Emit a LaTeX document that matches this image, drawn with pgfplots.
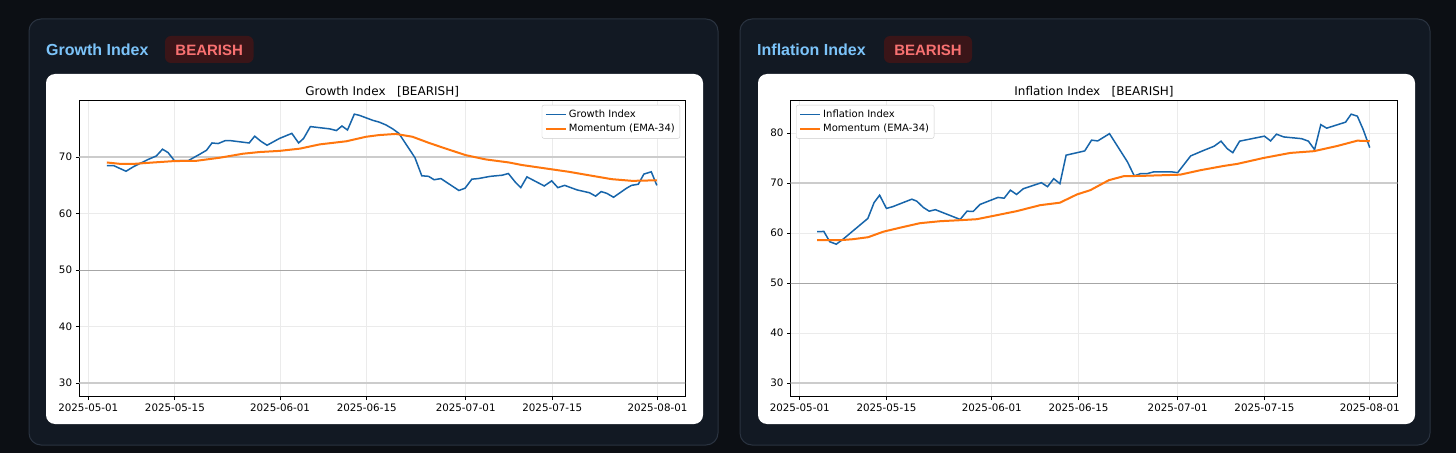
\documentclass[border=0pt]{standalone}
\usepackage{fontspec}
\setmainfont{DejaVu Sans}
\newfontfamily\hdrfont{Liberation Sans}
\usepackage{pgfplots}
\pgfplotsset{compat=1.18}
\usepackage{pgfplotstable}

\definecolor{pagebg}{HTML}{0C0F14}
\definecolor{cardbg}{HTML}{121923}
\definecolor{cardline}{HTML}{2A3340}
\definecolor{hdrblue}{HTML}{7CC4FA}
\definecolor{bearred}{HTML}{F87171}
\definecolor{badgebg}{HTML}{3A1518}
\definecolor{lineblue}{HTML}{1765AA}
\definecolor{lineorange}{HTML}{FF760D}

% day = days since 2025-05-01
\pgfplotstableread{
day val
3.0 68.5
4.1 68.5
6.1 67.5
7.3 68.3
8.4 68.9
9.7 69.6
11.0 70.2
12.0 71.4
12.9 70.8
13.9 69.4
16.2 69.4
18.0 70.5
19.1 71.2
20.0 72.5
21.0 72.4
22.1 72.9
23.1 72.9
26.0 72.5
26.9 73.7
27.9 72.8
28.9 72.1
30.9 73.3
32.9 74.2
34.0 72.5
34.8 73.3
35.9 75.4
39.0 75.0
40.1 74.7
41.0 75.5
41.9 74.8
43.0 77.6
43.8 77.4
46.0 76.5
47.0 76.2
48.1 75.7
49.2 75.0
50.2 74.2
52.8 69.9
53.9 66.7
55.0 66.6
55.9 66.0
57.0 66.2
59.9 64.1
60.9 64.5
62.0 66.1
63.0 66.2
65.0 66.6
66.9 66.8
67.9 67.1
69.0 65.6
69.9 64.6
70.9 66.5
73.7 64.9
74.9 65.8
75.9 64.6
77.0 65.0
79.0 64.2
81.0 63.7
82.0 63.1
82.9 63.9
83.8 63.6
84.9 62.9
87.0 64.5
87.8 65.0
88.9 65.2
89.8 67.0
91.0 67.4
91.9 65.0
}\growth

\pgfplotstableread{
day val
3.0 69.05
5.2 68.8
7.3 68.8
10.5 69.05
13.9 69.3
17.5 69.35
21.3 69.9
25.0 70.6
27.7 70.9
30.9 71.1
34.2 71.5
37.4 72.25
41.7 72.8
44.9 73.6
47.0 73.9
49.7 74.1
52.4 73.6
55.1 72.5
57.8 71.5
61.0 70.35
64.2 69.6
68.0 69.05
70.1 68.6
73.9 68.0
77.7 67.4
81.4 66.7
84.6 66.1
87.9 65.8
91.9 65.9
}\growthema

\pgfplotstableread{
day val
2.8 60.3
3.9 60.35
4.85 58.3
5.9 57.8
7.0 58.8
11.0 62.95
12.0 66.1
12.9 67.6
14.0 64.95
15.0 65.3
18.1 66.8
18.9 66.4
19.95 65.15
20.9 64.4
21.9 64.7
25.9 62.75
27.0 64.4
28.0 64.35
29.1 65.75
32.0 67.15
33.0 67.0
34.0 68.6
35.0 67.75
36.1 68.9
39.0 70.1
40.0 69.3
41.0 70.9
42.0 69.9
43.0 75.6
46.0 76.45
47.1 78.6
48.1 78.45
50.0 79.9
52.9 74.25
54.0 71.45
55.0 71.9
56.05 71.9
57.1 72.25
60.1 72.25
61.0 72.1
63.1 75.45
64.9 76.4
66.9 77.4
68.0 78.4
69.0 76.9
69.9 76.1
71.0 78.4
75.0 79.4
76.0 78.45
76.95 79.8
78.1 79.25
81.0 78.9
82.1 78.4
83.1 76.7
84.1 81.7
85.05 81.0
88.1 82.2
89.0 83.8
90.0 83.4
90.95 80.7
92.0 77.1
}\inflation

\pgfplotstableread{
day val
2.8 58.6
6.5 58.6
8.6 58.8
11.05 59.2
13.5 60.3
16.2 61.1
19.4 62.0
22.7 62.4
25.9 62.6
28.6 62.8
31.8 63.6
35.0 64.4
38.8 65.6
42.0 66.1
44.75 67.75
46.9 68.6
49.9 70.6
52.3 71.4
55.0 71.45
61.4 71.7
64.7 72.6
68.45 73.45
70.6 73.85
74.9 75.05
79.2 76.05
83.0 76.4
86.8 77.45
90.0 78.5
92.0 78.4
}\inflationema

\pgfplotsset{
  panel/.style={
    anchor=south west, scale only axis, height=296pt,
    xmin=-1.45, xmax=96.45,
    xtick={0,14,31,45,61,75,92},
    xticklabels={2025-05-01,2025-05-15,2025-06-01,2025-06-15,2025-07-01,2025-07-15,2025-08-01},
    tick align=outside, xtick pos=bottom, ytick pos=left,
    major tick length=3.5pt,
    every tick/.style={black, line width=0.8pt},
    axis line style={black, line width=0.8pt},
    grid=major, grid style={black!8, line width=0.8pt},
    tick label style={font=\fontsize{10.3}{12}\selectfont},
    /pgf/number format/assume math mode=true,
    xticklabel style={inner sep=0pt, anchor=north, yshift=-3.5pt},
    yticklabel style={inner sep=0pt, anchor=east, xshift=-3.5pt},
    title style={font=\fontsize{12}{14}\selectfont, at={(0.5,1)}, anchor=base, yshift=-1pt, inner sep=0pt},
    legend style={font=\fontsize{10}{12}\selectfont, draw=black!20, rounded corners=2pt,
      inner sep=3pt, row sep=1pt, fill=white},
    legend cell align=left,
    legend image code/.code={\draw[##1] (0pt,0pt) -- (20pt,0pt);},
  },
  refthick/.style={forget plot, draw=black!20, line width=2pt},
  refmid/.style={forget plot, draw=black!35, line width=1pt},
  idx/.style={lineblue, line width=1.5pt},
  ema/.style={lineorange, line width=2pt},
}

\begin{document}
\begin{tikzpicture}[x=1pt, y=1pt]
\fill[pagebg] (0,0) rectangle (1456,453);
\useasboundingbox (0,0) rectangle (1456,453);
% cards
\filldraw[fill=cardbg, draw=cardline, line width=1pt, rounded corners=12pt] (29,8) rectangle (718,434);
\filldraw[fill=cardbg, draw=cardline, line width=1pt, rounded corners=12pt] (740,8) rectangle (1430,434);
\fill[white, rounded corners=9pt] (46,29) rectangle (703,379);
\fill[white, rounded corners=9pt] (758,29) rectangle (1415,379);
% headers
\node[anchor=base west, inner sep=0pt, text=hdrblue, font=\hdrfont\bfseries\fontsize{16}{19}\selectfont] at (46,397.5) {Growth Index};
\fill[badgebg, rounded corners=6pt] (165,390) rectangle (253.5,417);
\node[anchor=base, inner sep=0pt, text=bearred, font=\hdrfont\bfseries\fontsize{15}{18}\selectfont] at (209.2,397.5) {BEARISH};
\node[anchor=base west, inner sep=0pt, text=hdrblue, font=\hdrfont\bfseries\fontsize{16}{19}\selectfont] at (757,397.5) {Inflation Index};
\fill[badgebg, rounded corners=6pt] (884,390) rectangle (972,417);
\node[anchor=base, inner sep=0pt, text=bearred, font=\hdrfont\bfseries\fontsize{15}{18}\selectfont] at (928,397.5) {BEARISH};

\begin{axis}[panel, at={(79.3pt,56.3pt)}, width=605.7pt,
  ymin=27.62, ymax=79.98, ytick={30,40,50,60,70},
  title={Growth Index\ \ \ [BEARISH]},
  legend style={at={(1,1)}, anchor=north east, xshift=-5pt, yshift=-4.3pt}]
\addplot[refthick] coordinates {(-5,30) (100,30)};
\addplot[refthick] coordinates {(-5,70) (100,70)};
\addplot[refmid] coordinates {(-5,50) (100,50)};
\addplot[idx] table[x=day, y=val] {\growth};
\addlegendentry{Growth Index}
\addplot[ema] table[x=day, y=val] {\growthema};
\addlegendentry{Momentum (EMA-34)}
\end{axis}

\begin{axis}[panel, at={(790.7pt,56.3pt)}, width=606.6pt,
  ymin=27.31, ymax=86.49, ytick={30,40,50,60,70,80},
  title={Inflation Index\ \ \ [BEARISH]},
  legend style={at={(0,1)}, anchor=north west, xshift=5.3pt, yshift=-4.3pt}]
\addplot[refthick] coordinates {(-5,30) (100,30)};
\addplot[refthick] coordinates {(-5,70) (100,70)};
\addplot[refmid] coordinates {(-5,50) (100,50)};
\addplot[idx] table[x=day, y=val] {\inflation};
\addlegendentry{Inflation Index}
\addplot[ema] table[x=day, y=val] {\inflationema};
\addlegendentry{Momentum (EMA-34)}
\end{axis}
\end{tikzpicture}
\end{document}
